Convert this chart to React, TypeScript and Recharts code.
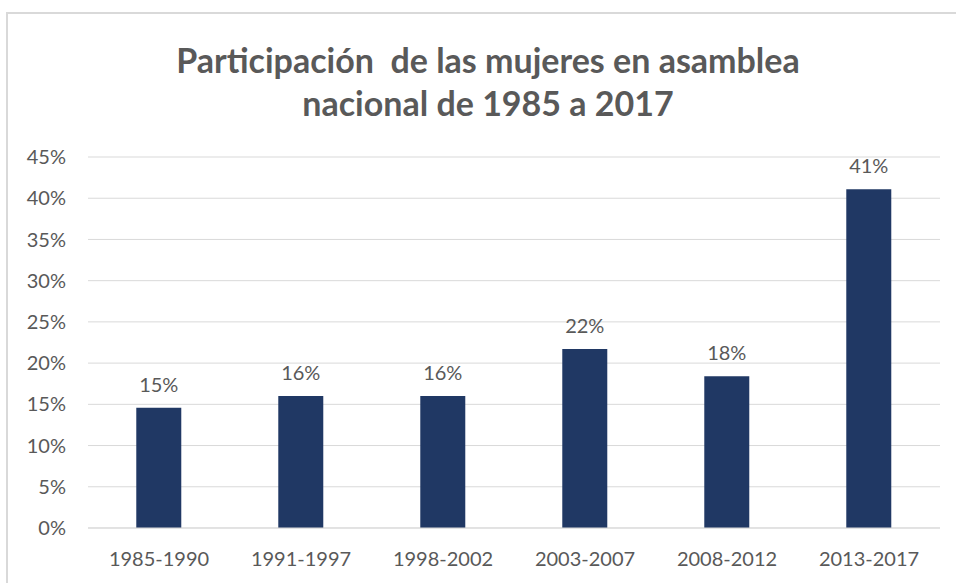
import React from 'react';
import { BarChart, Bar, XAxis, YAxis, CartesianGrid, LabelList } from 'recharts';

const categories = ['1985-1990', '1991-1997', '1998-2002', '2003-2007', '2008-2012', '2013-2017'];
const participation = [14.6, 16.0, 16.0, 21.7, 18.4, 41.1];
const yTicks = [0, 5, 10, 15, 20, 25, 30, 35, 40, 45];

const data = categories.map((c, i) => ({ name: c, value: participation[i] }));

const FONT = 'Lato, "Open Sans", sans-serif';
const GRAY = '#595959';

export default function App() {
  return (
    <div style={{ position: 'absolute', left: 0, top: 0, width: 956, height: 583, background: '#fff', overflow: 'hidden', fontFamily: FONT }}>
      <div style={{ position: 'absolute', left: 6, top: 12, width: 1000, height: 700, borderTop: '2px solid #d9d9d9', borderLeft: '2px solid #d9d9d9', boxSizing: 'border-box' }} />
      <div style={{ position: 'absolute', left: 0, top: 38, width: 976, textAlign: 'center', color: GRAY, fontWeight: 700, fontSize: 34, lineHeight: '43px', fontFamily: FONT }}>
        <div>Participación&nbsp; de las mujeres en asamblea</div>
        <div>nacional de 1985 a 2017</div>
      </div>
      <div style={{ position: 'absolute', left: 0, top: 0 }}>
        <BarChart width={956} height={583} data={data} margin={{ top: 157, right: 16, bottom: 25, left: 8 }} barCategoryGap="34%">
          <CartesianGrid vertical={false} stroke="#d9d9d9" strokeWidth={1} />
          <XAxis
            dataKey="name"
            height={30}
            axisLine={{ stroke: '#d9d9d9' }}
            tickLine={false}
            tickSize={0}
            tickMargin={24}
            tick={{ fill: GRAY, fontSize: 20, fontFamily: FONT }}
            interval={0}
          />
          <YAxis
            width={80}
            domain={[0, 45]}
            ticks={yTicks}
            axisLine={false}
            tickLine={false}
            tickSize={0}
            tickMargin={22}
            tickFormatter={(v: number) => `${v}%`}
            tick={{ fill: GRAY, fontSize: 20, fontFamily: FONT }}
            interval={0}
          />
          <Bar dataKey="value" fill="#203864" isAnimationActive={false}>
            <LabelList
              dataKey="value"
              position="top"
              offset={16}
              formatter={(v: number) => `${Math.round(v)}%`}
              style={{ fill: GRAY, fontSize: 20, fontFamily: FONT }}
            />
          </Bar>
        </BarChart>
      </div>
    </div>
  );
}
